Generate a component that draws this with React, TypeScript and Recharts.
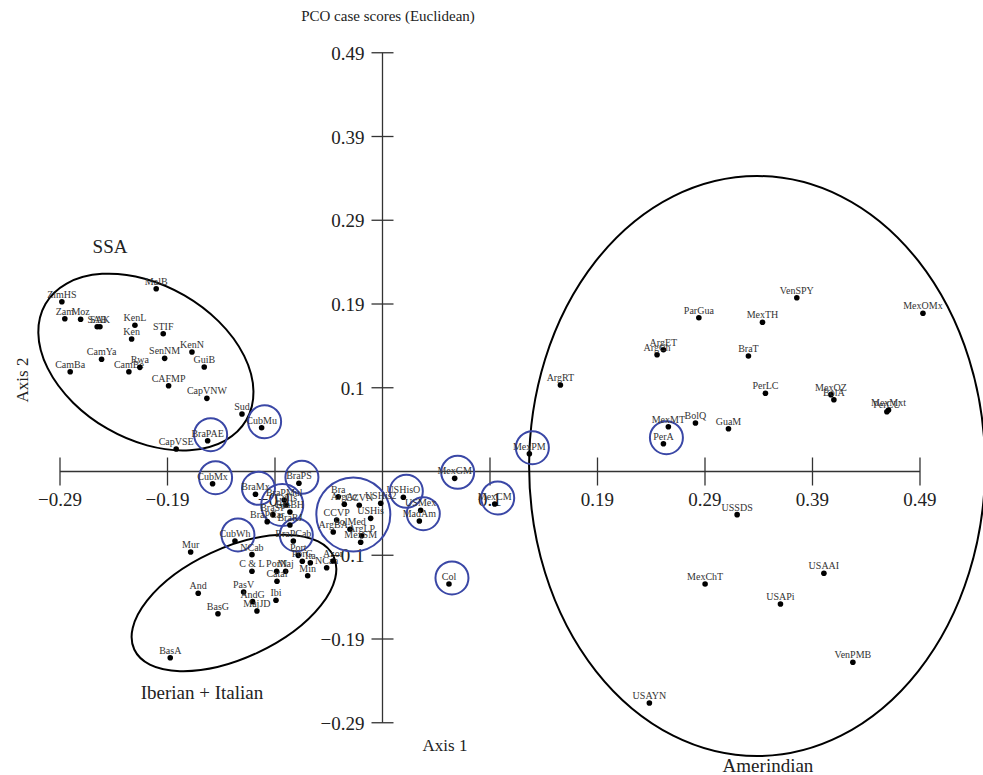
import { ScatterChart, Scatter, XAxis, YAxis } from 'recharts';

const serif = "'Liberation Serif', 'Times New Roman', serif";

// PCO case scores (Axis 1 = x, Axis 2 = y)
const ssa = [
  { name: 'ZimHS', x: -0.2923, y: 0.1987 },
  { name: 'Zam', x: -0.2896, y: 0.1788 },
  { name: 'Moz', x: -0.2752, y: 0.1781 },
  { name: 'SAB', x: -0.2601, y: 0.1694 },
  { name: 'SAK', x: -0.2576, y: 0.1694 },
  { name: 'MalB', x: -0.2063, y: 0.2139 },
  { name: 'KenL', x: -0.2257, y: 0.1711 },
  { name: 'Ken', x: -0.2287, y: 0.155 },
  { name: 'STIF', x: -0.1999, y: 0.1612 },
  { name: 'KenN', x: -0.1737, y: 0.1398 },
  { name: 'CamYa', x: -0.2561, y: 0.1313 },
  { name: 'SenNM', x: -0.1986, y: 0.1324 },
  { name: 'GuiB', x: -0.1625, y: 0.1223 },
  { name: 'CamBa', x: -0.2847, y: 0.1168 },
  { name: 'CamBe', x: -0.2312, y: 0.1168 },
  { name: 'Rwa', x: -0.2212, y: 0.1219 },
  { name: 'CAFMP', x: -0.195, y: 0.1004 },
  { name: 'CapVNW', x: -0.1601, y: 0.0856 },
  { name: 'Sud', x: -0.1281, y: 0.0673 },
  { name: 'CapVSE', x: -0.1881, y: 0.0263 },
];

const admixed = [
  { name: 'BraPAE', x: -0.1594, y: 0.036 },
  { name: 'CubMu', x: -0.1102, y: 0.0512 },
  { name: 'CubMx', x: -0.1549, y: -0.0143 },
  { name: 'BraMx', x: -0.1158, y: -0.0267 },
  { name: 'BraPMul', x: -0.0896, y: -0.0333 },
  { name: 'GuiIs', x: -0.088, y: -0.0392 },
  { name: 'BraSP', x: -0.0999, y: -0.0505 },
  { name: 'BraBH', x: -0.0844, y: -0.0474 },
  { name: 'BraPCar', x: -0.1051, y: -0.0587 },
  { name: 'BraRJ', x: -0.0844, y: -0.0626 },
  { name: 'BraPS', x: -0.0762, y: -0.0138 },
  { name: 'CubWh', x: -0.1345, y: -0.0813 },
  { name: 'BraPCab', x: -0.0813, y: -0.0813 },
  { name: 'Bra', x: -0.0403, y: -0.0295 },
  { name: 'ArgAz', x: -0.0348, y: -0.0384 },
  { name: 'CCVN', x: -0.0212, y: -0.0395 },
  { name: 'USHis2', x: -0.0016, y: -0.0372 },
  { name: 'CCVP', x: -0.0418, y: -0.0567 },
  { name: 'SolMed', x: -0.0296, y: -0.0676 },
  { name: 'ArgBA', x: -0.0449, y: -0.0708 },
  { name: 'ArgLP', x: -0.019, y: -0.0751 },
  { name: 'USHis', x: -0.0108, y: -0.0548 },
  { name: 'MexSM', x: -0.0199, y: -0.0828 },
  { name: 'USHisO', x: 0.019, y: -0.0302 },
  { name: 'USMex', x: 0.0348, y: -0.0454 },
  { name: 'MadAm', x: 0.0336, y: -0.0579 },
  { name: 'MexGM', x: 0.0658, y: -0.008 },
  { name: 'MexCM', x: 0.1023, y: -0.038 },
  { name: 'Col', x: 0.0606, y: -0.1316 },
  { name: 'MexPM', x: 0.1339, y: 0.0208 },
];

const iberian = [
  { name: 'Mur', x: -0.1749, y: -0.0942 },
  { name: 'NCab', x: -0.119, y: -0.0973 },
  { name: 'C & L', x: -0.119, y: -0.1168 },
  { name: 'PorN', x: -0.0965, y: -0.1168 },
  { name: 'Maj', x: -0.0883, y: -0.1168 },
  { name: 'Catal', x: -0.0962, y: -0.1285 },
  { name: 'Ibi', x: -0.0971, y: -0.1507 },
  { name: 'PasV', x: -0.1266, y: -0.141 },
  { name: 'AndG', x: -0.1184, y: -0.1523 },
  { name: 'MajJD', x: -0.1145, y: -0.1632 },
  { name: 'And', x: -0.168, y: -0.1425 },
  { name: 'BasG', x: -0.15, y: -0.1664 },
  { name: 'BasA', x: -0.1935, y: -0.2179 },
  { name: 'Port', x: -0.0768, y: -0.0981 },
  { name: 'PorG', x: -0.0731, y: -0.1051 },
  { name: 'Ita', x: -0.0658, y: -0.1067 },
  { name: 'NCan', x: -0.0509, y: -0.1126 },
  { name: 'Azor', x: -0.0451, y: -0.1047 },
  { name: 'Min', x: -0.0682, y: -0.1219 },
];

const amerindian = [
  { name: 'VenSPY', x: 0.3777, y: 0.2034 },
  { name: 'MexOMx', x: 0.4927, y: 0.1851 },
  { name: 'ParGua', x: 0.2884, y: 0.18 },
  { name: 'MexTH', x: 0.3464, y: 0.1746 },
  { name: 'ArgET', x: 0.2561, y: 0.1425 },
  { name: 'ArgCh', x: 0.2503, y: 0.1367 },
  { name: 'BraT', x: 0.3336, y: 0.1351 },
  { name: 'ArgRT', x: 0.1622, y: 0.1012 },
  { name: 'PerLC', x: 0.3491, y: 0.0915 },
  { name: 'MexOZ', x: 0.4088, y: 0.0899 },
  { name: 'BolA', x: 0.4115, y: 0.084 },
  { name: 'PerCU', x: 0.4598, y: 0.07 },
  { name: 'MexMxt', x: 0.4613, y: 0.072 },
  { name: 'MexMT', x: 0.2606, y: 0.0524 },
  { name: 'BolQ', x: 0.2853, y: 0.0567 },
  { name: 'GuaM', x: 0.3154, y: 0.0501 },
  { name: 'PerA', x: 0.2561, y: 0.0325 },
  { name: 'USSDS', x: 0.3233, y: -0.0505 },
  { name: 'USAAI', x: 0.4024, y: -0.1191 },
  { name: 'MexChT', x: 0.2941, y: -0.1316 },
  { name: 'USAPi', x: 0.3628, y: -0.155 },
  { name: 'VenPMB', x: 0.4288, y: -0.2232 },
  { name: 'USAYN', x: 0.2433, y: -0.2709 },
];

// samples circled in blue
const circled = [
  'BraPAE', 'CubMu', 'CubMx', 'BraMx', 'BraPS', 'CubWh', 'BraPCab',
  'USHisO', 'MexGM', 'MexCM', 'Col', 'MexPM', 'PerA',
];

// blue circles drawn around small groups of samples
const groupRings = [
  { x: -0.0914, y: -0.0392, r: 21 },
  { x: -0.0266, y: -0.0503, r: 37 },
  { x: 0.0372, y: -0.0494, r: 16.5 },
];

// hand drawn group ellipses (centre in axis units, radii in px)
const groupOvals = [
  { x: -0.2157, y: 0.1281, rx: 116, ry: 77, rot: 30 },
  { x: -0.1354, y: -0.1539, rx: 110, ry: 55, rot: -25 },
  { x: 0.3415, y: 0.0064, rx: 228, ry: 290, rot: 0 },
];

const xTickPos = [-0.294, -0.196, -0.098, 0.098, 0.196, 0.294, 0.392, 0.49];
const xTickLabels = ['\u22120.29', '\u22120.19', '\u22120.1', '0.1', '0.19', '0.29', '0.39', '0.49'];
const yTickPos = [0.49, 0.392, 0.294, 0.196, 0.098, -0.098, -0.196, -0.294];
const yTickLabels = ['0.49', '0.39', '0.29', '0.19', '0.1', '\u22120.1', '\u22120.19', '\u22120.29'];

const xAxisLine = [{ x: -0.294, y: 0 }, { x: 0.49, y: 0 }];
const yAxisLine = [{ x: 0, y: 0.49 }, { x: 0, y: -0.294 }];

const xTicks = xTickPos.map((x, i) => ({ x, y: 0, label: xTickLabels[i] }));
const yTicks = yTickPos.map((y, i) => ({ x: 0, y, label: yTickLabels[i] }));
const allPoints = [...ssa, ...admixed, ...iberian, ...amerindian];
const ringPoints = allPoints.filter((p) => circled.includes(p.name));

const W = 983;
const H = 775;

const AXIS = '#333';
const RING = '#3a47a6';

const XTick = (p: any) => (
  <g>
    <line x1={p.cx} x2={p.cx} y1={p.cy - 14} y2={p.cy + 14} stroke={AXIS} strokeWidth={1.3} />
    <text x={p.cx} y={p.cy + 34} textAnchor="middle" fontSize={19} fontFamily={serif} fill="#222">
      {p.payload.label}
    </text>
  </g>
);

const YTick = (p: any) => (
  <g>
    <line x1={p.cx - 11} x2={p.cx + 11} y1={p.cy} y2={p.cy} stroke={AXIS} strokeWidth={1.3} />
    <text x={p.cx - 18} y={p.cy + 7} textAnchor="end" fontSize={19} fontFamily={serif} fill="#222">
      {p.payload.label}
    </text>
  </g>
);

const Oval = (p: any) => (
  <ellipse
    cx={p.cx}
    cy={p.cy}
    rx={p.payload.rx}
    ry={p.payload.ry}
    transform={`rotate(${p.payload.rot} ${p.cx} ${p.cy})`}
    fill="none"
    stroke="#000"
    strokeWidth={2}
  />
);

const PointRing = (p: any) => (
  <circle cx={p.cx + 3} cy={p.cy - 6} r={16.5} fill="none" stroke={RING} strokeWidth={2} />
);

const GroupRing = (p: any) => (
  <circle cx={p.cx} cy={p.cy} r={p.payload.r} fill="none" stroke={RING} strokeWidth={2} />
);

const Sample = (p: any) => (
  <g>
    <circle cx={p.cx} cy={p.cy} r={2.8} fill="#000" />
    <text x={p.cx} y={p.cy - 4} textAnchor="middle" fontSize={10} fontFamily={serif} fill="#333">
      {p.payload.name}
    </text>
  </g>
);

const none = () => <g />;

function Note({ x, y, size, text, rotate }: { x: number; y: number; size: number; text: string; rotate?: boolean }) {
  return (
    <div
      style={{
        position: 'absolute',
        left: x,
        top: y,
        transform: `translate(-50%, -50%)${rotate ? ' rotate(-90deg)' : ''}`,
        fontFamily: serif,
        fontSize: size,
        lineHeight: 1,
        whiteSpace: 'nowrap',
        color: '#222',
      }}
    >
      {text}
    </div>
  );
}

export default function App() {
  return (
    <div style={{ position: 'absolute', left: 0, top: 0, width: W, height: H, background: '#fff' }}>
      <ScatterChart width={W} height={H} margin={{ top: 0, right: 0, bottom: 0, left: 0 }}>
        <XAxis type="number" dataKey="x" domain={[-0.3487, 0.54744]} hide allowDataOverflow />
        <YAxis type="number" dataKey="y" domain={[-0.35514, 0.55173]} hide allowDataOverflow />
        <Scatter data={xAxisLine} line={{ stroke: AXIS, strokeWidth: 1.3 }} shape={none} isAnimationActive={false} />
        <Scatter data={yAxisLine} line={{ stroke: AXIS, strokeWidth: 1.3 }} shape={none} isAnimationActive={false} />
        <Scatter data={xTicks} shape={XTick} isAnimationActive={false} />
        <Scatter data={yTicks} shape={YTick} isAnimationActive={false} />
        <Scatter data={groupOvals} shape={Oval} isAnimationActive={false} />
        <Scatter data={groupRings} shape={GroupRing} isAnimationActive={false} />
        <Scatter data={ringPoints} shape={PointRing} isAnimationActive={false} />
        <Scatter data={allPoints} shape={Sample} isAnimationActive={false} />
      </ScatterChart>
      <Note x={388} y={16} size={15} text="PCO case scores (Euclidean)" />
      <Note x={22} y={380} size={17} text="Axis 2" rotate />
      <Note x={445} y={745} size={17} text="Axis 1" />
      <Note x={110} y={246} size={19} text="SSA" />
      <Note x={202} y={692} size={19} text="Iberian + Italian" />
      <Note x={768} y={765} size={19} text="Amerindian" />
    </div>
  );
}
